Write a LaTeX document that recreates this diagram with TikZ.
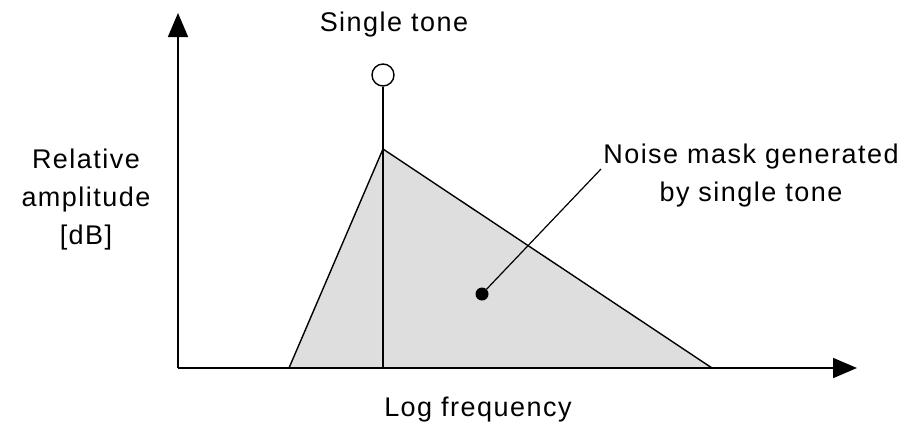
\documentclass[tikz,border=0pt]{standalone}
\usepackage{fontspec}
\setmainfont{Liberation Sans}
\newfontfamily\lblfont[LetterSpace=5.5]{Liberation Sans}
\usetikzlibrary{arrows.meta,positioning}
\definecolor{maskgray}{RGB}{222,222,222}

\begin{document}
\begin{tikzpicture}[x=1pt, y=-1pt,
  axis/.style={line width=1.8pt, -{Triangle[length=24pt,width=20pt]}},
  mask/.style={draw=black, fill=maskgray, line width=1.4pt, line join=miter},
  lbl/.style={font=\lblfont\fontsize{27}{38}\selectfont, align=center}
]
  \useasboundingbox (0,0) rectangle (906,429);
  %% axes
  \coordinate (origin) at (178,368);
  \coordinate (ytop) at (178,13);
  \coordinate (xend) at (857,368);
  %% noise mask triangle
  \coordinate (lo) at (289,368);
  \coordinate (peak) at (383,149);
  \coordinate (hi) at (712,368);
  \filldraw[mask] (lo) -- (peak) -- (hi) -- cycle;
  \draw[axis] (origin) -- (ytop);
  \draw[axis] (origin) -- (xend);
  %% single tone
  \node[draw, circle, line width=1.4pt, minimum size=22pt, inner sep=0pt] (tone) at (383,75) {};
  \coordinate (base) at (383,368);
  \draw[line width=1.6pt] (base) -- (tone.south);
  \node[lbl] (tonelbl) at (394,25) {Single tone};
  %% labels
  \node[lbl] (ylbl) at (86,200) {Relative\\amplitude\\{[dB]}};
  \node[lbl] (xlbl) at (478,410) {Log frequency};
  \node[lbl] (masklbl) at (751,176) {Noise mask generated\\by single tone};
  %% leader
  \node[circle, fill=black, minimum size=13pt, inner sep=0pt] (dot) at (482,294) {};
  \coordinate (lead) at (601,169);
  \draw[line width=1.2pt] (dot) -- (lead);
\end{tikzpicture}
\end{document}
